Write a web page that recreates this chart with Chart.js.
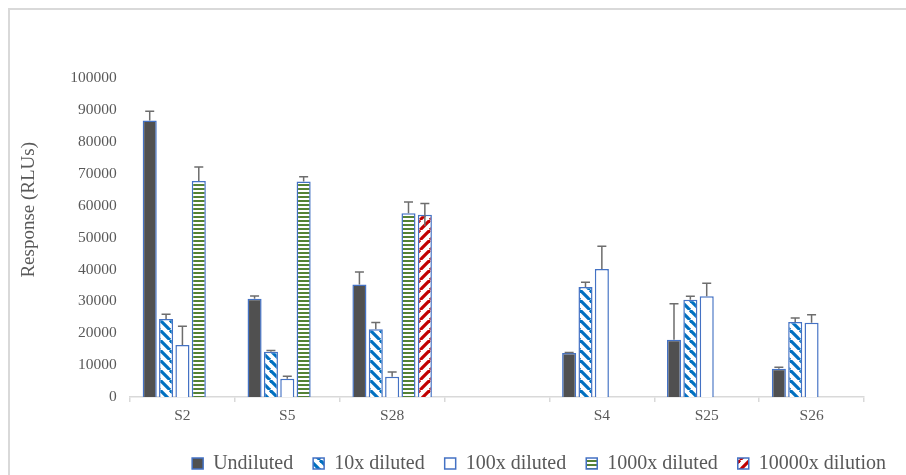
<!DOCTYPE html>
<html>
<head>
<meta charset="utf-8">
<script src="https://cdn.jsdelivr.net/npm/chart.js@4.4.0/dist/chart.umd.min.js"></script>
<style>
  html, body { margin: 0; padding: 0; background: #ffffff; overflow: hidden; }
  #wrap { position: relative; width: 906px; height: 475px; }
  #frame { position: absolute; left: 8px; top: 8px; width: 1000px; height: 1000px;
           border-top: 2px solid #d9d9d9; border-left: 2px solid #d9d9d9; }
  #c { position: absolute; left: 0; top: 0; }
</style>
</head>
<body>
<div id="wrap">
  <div id="frame"></div>
  <canvas id="c" width="906" height="475"></canvas>
</div>
<script>
// ---- data ----
const categories = ['S2', 'S5', 'S28', '', 'S4', 'S25', 'S26'];
const seriesNames = ['Undiluted', '10x diluted', '100x diluted', '1000x diluted', '10000x dilution'];

const undiluted    = [86800, 30800, 35300, null, 13800, 18000, 8850];
const undilutedErr = [2900, 900, 3900, null, 200, 11300, 450];

const diluted10    = [24500, 14200, 21250, null, 34500, 30500, 23500];
const diluted10Err = [1500, 400, 2100, null, 1500, 1100, 1300];

const diluted100    = [16300, 5700, 6350, null, 40200, 31600, 23300];
const diluted100Err = [5900, 800, 1500, null, 7100, 4100, 2500];

const diluted1000    = [67800, 67600, 57700, null, null, null, null];
const diluted1000Err = [4400, 1500, 3500, null, null, null, null];

const dilution10000    = [null, null, 57200, null, null, null, null];
const dilution10000Err = [null, null, 3500, null, null, null, null];

const yTicks = [0, 10000, 20000, 30000, 40000, 50000, 60000, 70000, 80000, 90000, 100000];

// ---- fill patterns ----
function makePattern(size, draw) {
  const cv = document.createElement('canvas');
  cv.width = size; cv.height = size;
  const g = cv.getContext('2d');
  g.fillStyle = '#ffffff';
  g.fillRect(0, 0, size, size);
  draw(g, size);
  return document.getElementById('c').getContext('2d').createPattern(cv, 'repeat');
}
const patDown = makePattern(10, (g, s) => {
  g.strokeStyle = '#0070C0'; g.lineWidth = 3.2;
  for (let k = -1; k <= 1; k++) { g.beginPath(); g.moveTo(k * s, 0); g.lineTo(k * s + s, s); g.stroke(); }
});
const patUp = makePattern(10, (g, s) => {
  g.strokeStyle = '#C00000'; g.lineWidth = 3.2;
  for (let k = -1; k <= 1; k++) { g.beginPath(); g.moveTo(k * s, s); g.lineTo(k * s + s, 0); g.stroke(); }
});
const patHoriz = makePattern(4, (g, s) => {
  g.fillStyle = '#548235';
  g.fillRect(0, 0, s, 2);
});

const edge = '#4472C4';
const serif = "'Liberation Serif', 'Times New Roman', serif";

const datasets = [
  { label: seriesNames[0], data: undiluted, err: undilutedErr, backgroundColor: '#505050' },
  { label: seriesNames[1], data: diluted10, err: diluted10Err, backgroundColor: patDown },
  { label: seriesNames[2], data: diluted100, err: diluted100Err, backgroundColor: '#ffffff' },
  { label: seriesNames[3], data: diluted1000, err: diluted1000Err, backgroundColor: patHoriz },
  { label: seriesNames[4], data: dilution10000, err: dilution10000Err, backgroundColor: patUp, errBoth: true }
].map(d => Object.assign({
  borderColor: edge, borderWidth: 1.5,
  categoryPercentage: 0.78, barPercentage: 0.86
}, d));

// error bars drawn from the bar elements and the y scale
const errorBars = {
  id: 'errorBars',
  afterDatasetsDraw(chart) {
    const ctx = chart.ctx;
    const ys = chart.scales.y;
    ctx.save();
    ctx.strokeStyle = '#6d6d6d';
    ctx.lineWidth = 1.5;
    chart.data.datasets.forEach((ds, i) => {
      const meta = chart.getDatasetMeta(i);
      ds.data.forEach((v, j) => {
        const e = ds.err[j];
        if (v == null || e == null) return;
        const x = meta.data[j].x;
        const yv = ys.getPixelForValue(v);
        const yt = ys.getPixelForValue(v + e);
        const yb = ds.errBoth ? ys.getPixelForValue(v - e) : yv;
        ctx.beginPath();
        ctx.moveTo(x, yb); ctx.lineTo(x, yt);
        ctx.moveTo(x - 4.5, yt); ctx.lineTo(x + 4.5, yt);
        ctx.stroke();
      });
    });
    ctx.restore();
  }
};

new Chart(document.getElementById('c'), {
  type: 'bar',
  data: { labels: categories, datasets: datasets },
  plugins: [errorBars],
  options: {
    responsive: false,
    animation: false,
    layout: { padding: { left: 10, top: 21, right: 0, bottom: 0 } },
    plugins: {
      tooltip: { enabled: false },
      legend: {
        position: 'bottom',
        align: 'end',
        maxHeight: 41.5,
        labels: {
          boxWidth: 11, boxHeight: 11, padding: 20,
          color: '#595959',
          font: { family: serif, size: 20 }
        }
      }
    },
    scales: {
      x: {
        grid: { display: true, drawOnChartArea: false, drawTicks: true, tickLength: 5, color: '#d9d9d9', lineWidth: 1.5 },
        border: { display: true, color: '#d9d9d9', width: 1.5 },
        ticks: { color: '#595959', padding: 5, font: { family: serif, size: 15.5 }, maxRotation: 0, autoSkip: false },
        afterFit: s => { s.height = 36.5; }
      },
      y: {
        min: 0,
        max: 117500,
        grid: { display: false, drawTicks: false },
        border: { display: false },
        ticks: {
          color: '#595959', padding: 13.3,
          font: { family: serif, size: 15.5 },
          callback: v => String(v)
        },
        afterBuildTicks: s => { s.ticks = yTicks.map(v => ({ value: v })); },
        afterFit: s => { s.width = 120; },
        title: {
          display: true, text: 'Response (RLUs)', color: '#595959',
          font: { family: serif, size: 19 },
          padding: { top: 7.6, bottom: 29.8 }
        }
      },
      y2: {
        position: 'right',
        grid: { display: false, drawTicks: false },
        border: { display: false },
        ticks: { display: false },
        afterFit: s => { s.width = 42; }
      }
    }
  }
});
</script>
</body>
</html>
